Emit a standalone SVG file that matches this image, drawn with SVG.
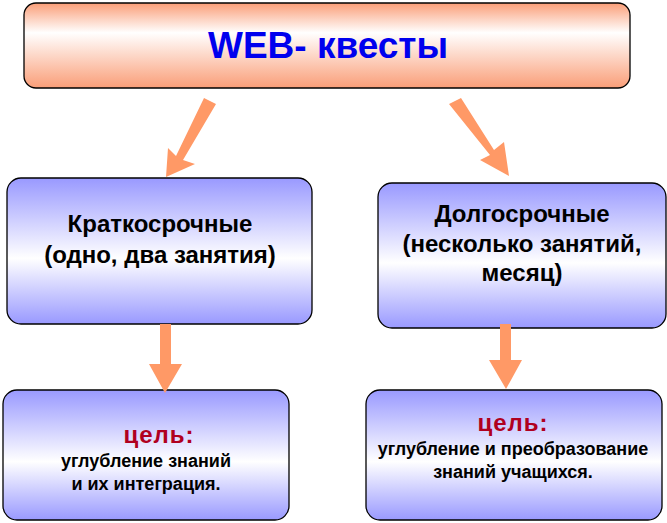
<svg xmlns="http://www.w3.org/2000/svg" width="667" height="523" viewBox="0 0 667 523">
<defs>
<linearGradient id="gO" x1="0" y1="0" x2="0" y2="1"><stop offset="0" stop-color="#FA9E78"/><stop offset="0.35" stop-color="#FFFFFF"/><stop offset="1" stop-color="#FA9E78"/></linearGradient>
<linearGradient id="gB" x1="0" y1="0" x2="0" y2="1"><stop offset="0" stop-color="#9999FF"/><stop offset="0.55" stop-color="#FFFFFF"/><stop offset="1" stop-color="#9999FF"/></linearGradient>
</defs>
<style>
.box{stroke:#000;stroke-width:1.3}
.t{font-family:"Liberation Sans",Arial,sans-serif;font-weight:bold;text-anchor:middle}
.arr{fill:#FF9966}
.g{fill:#B00020;font-size:24px;letter-spacing:1px}
</style>
<g id="top"><rect class="box" x="24" y="3" width="606" height="85" rx="12" fill="url(#gO)"/>
<text class="t" x="328" y="58" font-size="37" fill="#0000EE">WEB- квесты</text></g>
<g id="short"><rect class="box" x="7" y="178" width="305" height="146" rx="14" fill="url(#gB)"/>
<text class="t" x="160" y="232" font-size="24">Краткосрочные</text>
<text class="t" x="160" y="263" font-size="24">(одно, два занятия)</text></g>
<g id="long"><rect class="box" x="378" y="183" width="288" height="145" rx="14" fill="url(#gB)"/>
<text class="t" x="522" y="222" font-size="24">Долгосрочные</text>
<text class="t" x="522" y="252" font-size="24">(несколько занятий,</text>
<text class="t" x="522" y="281" font-size="24">месяц)</text></g>
<g id="goal1"><rect class="box" x="3" y="390" width="286" height="130" rx="14" fill="url(#gB)"/>
<text class="t g" x="159" y="443">цель:</text>
<text class="t" x="146" y="467" font-size="18">углубление знаний</text>
<text class="t" x="146" y="490" font-size="18">и их интеграция.</text></g>
<g id="goal2"><rect class="box" x="366" y="390" width="296" height="130" rx="14" fill="url(#gB)"/>
<text class="t g" x="513" y="431">цель:</text>
<text class="t" x="513" y="455" font-size="18">углубление и преобразование</text>
<text class="t" x="513" y="478" font-size="18">знаний учащихся.</text></g>
<g id="connectors">
<polygon class="arr" points="204,98 216,104 183,160 195,164 166,177 168,148 176,156"/>
<polygon class="arr" points="449,104 461,98 494,150 504,142 509,176 480,160 490,155"/>
<polygon class="arr" points="160,324 171,324 171,364 182,364 165,393 149,364 160,364"/>
<polygon class="arr" points="500,324 511,324 511,360 522,360 506,389 489,360 500,360"/>
</g>
</svg>
